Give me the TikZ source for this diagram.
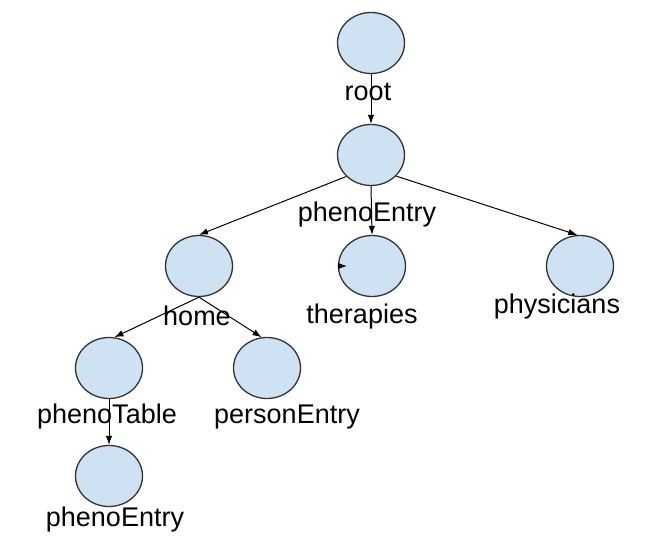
\documentclass[tikz,border=0pt]{standalone}
\usepackage{fontspec}
\setmainfont{Liberation Sans}
\usetikzlibrary{arrows.meta,shapes.geometric}
\definecolor{nodefill}{HTML}{CFE2F3}
\definecolor{nodeline}{HTML}{333333}
\tikzset{
  elnode/.style={ellipse, draw=nodeline, line width=1.3pt, fill=nodefill,
    minimum width=67pt, minimum height=61pt, inner sep=0pt},
  lbl/.style={anchor=base, inner sep=0pt, font=\fontsize{27}{32}\selectfont},
  arr/.style={draw=black, line width=1pt, -{Latex[length=9pt,width=6.5pt]}}
}
\begin{document}
\begin{tikzpicture}[x=1pt,y=-1pt]
\useasboundingbox (0,0) rectangle (669,559);
% ellipses
\node[elnode] (r)   at (371,43)  {};
\node[elnode] (pe)  at (371,155) {};
\node[elnode] (th)  at (372,266) {};
\node[elnode] (ph)  at (580,266) {};
\node[elnode] (ho)  at (199,266) {};
\node[elnode] (pt)  at (109,368) {};
\node[elnode] (pn)  at (267,368) {};
\node[elnode] (pe2) at (109,476) {};
% connectors
\draw[arr] (r.south) -- (pe.north);
\draw[arr] (pe.south) -- (th.north);
\draw[arr] (pe.221) -- (ho.north);
\draw[arr] (pe.-40) -- (ph.95);
\draw[arr] (ho.south) -- (pt.80);
\draw[arr] (ho.south) -- (pn.100);
\draw[arr] (pt.south) -- (pe2.north);
\coordinate (thx) at (347,266);
\draw[arr] (th.west) -- (thx);
% labels
\node[lbl] (lr)   at (368,101) {root};
\node[lbl] (lpe)  at (367,221) {phenoEntry};
\node[lbl] (lth)  at (362,323) {therapies};
\node[lbl] (lph)  at (557,313) {physicians};
\node[lbl] (lho)  at (197,325) {home};
\node[lbl] (lpt)  at (107,423) {phenoTable};
\node[lbl] (lpn)  at (287,423) {personEntry};
\node[lbl] (lpe2) at (115,526) {phenoEntry};
\end{tikzpicture}
\end{document}
